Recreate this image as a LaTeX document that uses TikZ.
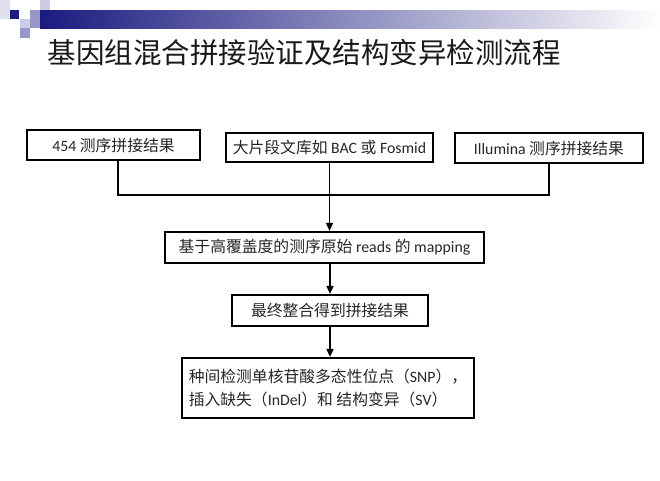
\documentclass[tikz,border=0pt]{standalone}
\usepackage{fontspec}
\setmainfont{Carlito}
\newfontfamily\cjk{Noto Sans CJK SC}
\usetikzlibrary{arrows.meta}
\definecolor{navy}{RGB}{26,26,128}
\definecolor{lav}{RGB}{150,150,200}
\definecolor{palelav}{RGB}{204,204,228}

\begin{document}
\begin{tikzpicture}[x=1pt, y=-1pt,
  box/.style={draw, line width=2.2pt, inner sep=0pt, text=black!85,
    font=\fontsize{15.8}{23}\selectfont},
  link/.style={line width=1.6pt},
  arr/.style={link, -{Triangle[length=8pt, width=7pt]}}]

  \useasboundingbox (0,0) rectangle (660,480);

  % corner squares and bar
  \fill[palelav!60] (0,0) rectangle (10,19);
  \fill[navy] (10,10) rectangle (19,19);
  \fill[palelav] (40,0) rectangle (50,10);
  \fill[lav] (30,10) rectangle (40,19);
  \fill[palelav] (20,19) rectangle (30,28);
  \fill[lav] (30,19) rectangle (40,28);
  \fill[lav] (20,28) rectangle (30,38);
  \shade[left color=navy, right color=white] (40,10) rectangle (660,28);

  \node[font=\cjk\fontsize{28.5}{34}\selectfont, text=black!90] (title) at (304,53)
    {基因组混合拼接验证及结构变异检测流程};

  \node[box, minimum width=173pt, minimum height=30pt] (r454) at (113.5,145)
    {454 {\cjk 测序拼接结果}};
  \node[box, minimum width=207pt, minimum height=29pt] (bac) at (329.5,147.5)
    {{\cjk 大片段文库如} BAC {\cjk 或} Fosmid};
  \node[box, minimum width=188pt, minimum height=30pt] (illu) at (549,148)
    {Illumina {\cjk 测序拼接结果}};
  \node[box, minimum width=319pt, minimum height=31pt] (map) at (324.5,247.5)
    {{\cjk 基于高覆盖度的测序原始} reads {\cjk 的} mapping};
  \node[box, minimum width=196pt, minimum height=31pt] (merge) at (330,310.5)
    {\cjk 最终整合得到拼接结果};
  \node[box, minimum width=292pt, minimum height=60pt, align=left] (var) at (328,388)
    {{\cjk 种间检测单核苷酸多态性位点（}SNP{\cjk ），}\\
     {\cjk 插入缺失（}InDel{\cjk ）和} {\cjk 结构变异（}SV{\cjk ）}};

  \coordinate (join) at (329.5,195);

  \draw[link] ([xshift=4.5pt]r454.south) |- (join) -| (illu.south); %% 454, Illumina
  \draw[arr] (bac.south) -- (bac.south |- map.north); %% BAC -> mapping
  \draw[arr] (merge.north |- map.south) -- (merge.north); %% mapping -> merge
  \draw[arr] (merge.south) -- (merge.south |- var.north); %% merge -> SNP/SV
\end{tikzpicture}
\end{document}
